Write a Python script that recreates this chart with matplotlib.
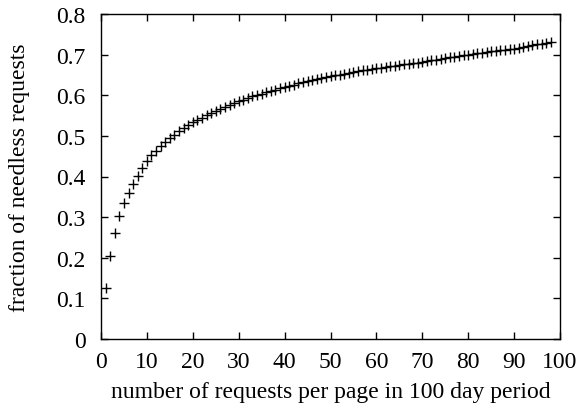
import matplotlib
matplotlib.use("Agg")
import matplotlib.pyplot as plt

requests = list(range(1, 99))
fraction = [
    0.126, 0.205, 0.261, 0.302, 0.334, 0.360, 0.382, 0.401, 0.422, 0.438,
    0.452, 0.464, 0.476, 0.486, 0.495, 0.503, 0.511, 0.519, 0.526, 0.533,
    0.539, 0.545, 0.551, 0.556, 0.562, 0.567, 0.571, 0.576, 0.580, 0.585,
    0.589, 0.593, 0.597, 0.600, 0.604, 0.607, 0.610, 0.614, 0.617, 0.620,
    0.623, 0.626, 0.629, 0.632, 0.634, 0.637, 0.639, 0.642, 0.644, 0.647,
    0.649, 0.651, 0.653, 0.655, 0.657, 0.659, 0.661, 0.663, 0.664, 0.666,
    0.668, 0.669, 0.671, 0.673, 0.674, 0.676, 0.677, 0.679, 0.680, 0.682,
    0.684, 0.686, 0.688, 0.689, 0.691, 0.693, 0.695, 0.697, 0.698, 0.700,
    0.702, 0.703, 0.705, 0.706, 0.708, 0.709, 0.711, 0.712, 0.714, 0.715,
    0.717, 0.719, 0.721, 0.723, 0.725, 0.727, 0.729, 0.731,
]
xticks = [0, 10, 20, 30, 40, 50, 60, 70, 80, 90, 100]
yticks = [0, 0.1, 0.2, 0.3, 0.4, 0.5, 0.6, 0.7, 0.8]
ytick_labels = ["0", "0.1", "0.2", "0.3", "0.4", "0.5", "0.6", "0.7", "0.8"]

plt.rcParams['font.family'] = ['Liberation Serif', 'DejaVu Serif']

fig = plt.figure(figsize=(5.8, 4.1), dpi=100)
ax = fig.add_axes([101/580, 70/410, 459/580, 325/410])

ax.plot(requests, fraction, linestyle='none', marker='+', markersize=7.5,
        markeredgewidth=1.0, color='black')

ax.set_xlim(0, 100)
ax.set_ylim(0, 0.8)
ax.set_xticks(xticks)
ax.set_xticklabels([str(t) for t in xticks])
ax.set_yticks(yticks)
ax.set_yticklabels(ytick_labels)
ax.tick_params(direction='in', length=5, width=1.0, top=True, right=True,
               labelsize=17)
ax.tick_params(axis='x', pad=9)
ax.tick_params(axis='y', pad=11)
for s in ax.spines.values():
    s.set_linewidth(1.0)

ax.set_xlabel("number of requests per page in 100 day period", fontsize=17, labelpad=6)
ax.set_ylabel("fraction of needless requests", fontsize=17, labelpad=19)

fig.savefig("out.png", dpi=100)
